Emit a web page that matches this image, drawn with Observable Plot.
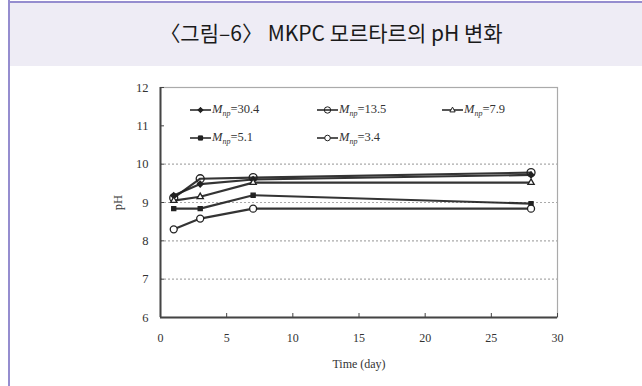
<!DOCTYPE html>
<html><head><meta charset="utf-8">
<script src="https://cdn.jsdelivr.net/npm/d3@7"></script>
<script src="https://cdn.jsdelivr.net/npm/@observablehq/plot@0.6"></script>
<style>
html,body{margin:0;padding:0;background:#fff;}
#wrap{position:relative;width:642px;height:386px;overflow:hidden;background:#fff;}
#header{position:absolute;left:9px;top:2px;width:640px;height:64px;background:#eeecf5;}
#bl{position:absolute;left:8px;top:0;width:2px;height:386px;background:#958dcf;}
#bt{position:absolute;left:8px;top:1px;width:640px;height:2px;background:#958dcf;}
#title{position:absolute;left:11px;width:640px;top:16px;text-align:center;font-family:"Noto Sans CJK KR","Noto Sans",sans-serif;font-weight:400;font-size:21px;line-height:32px;color:#1a1a1a;}
#chart{position:absolute;left:0;top:60px;}
#legend{position:absolute;left:0;top:0;width:642px;height:386px;pointer-events:none;font-family:"Liberation Serif",serif;font-size:12.5px;color:#333;}
.item{position:absolute;display:flex;align-items:center;height:16px;white-space:nowrap;color:#333;}
.item svg{display:block;margin-right:1px;}
.sub{font-size:8px;vertical-align:-3px;font-style:italic;color:#333;}
</style>
</head><body>
<div id="wrap">
  <div id="header"></div>
  <div id="bl"></div>
  <div id="bt"></div>
  <div id="title">〈그림–6〉 MKPC 모르타르의 pH 변화</div>
  <div id="chart"></div>
  <div id="legend"></div>
</div>
<script>
// ---- data ----
const days = [1, 3, 7, 28];
const seriesNames = ["30.4", "13.5", "7.9", "5.1", "3.4"];
const ph_30_4 = [9.18, 9.48, 9.60, 9.72];
const ph_13_5 = [9.12, 9.62, 9.65, 9.78];
const ph_7_9  = [9.05, 9.15, 9.52, 9.52];
const ph_5_1  = [8.84, 8.84, 9.19, 8.97];
const ph_3_4  = [8.30, 8.58, 8.84, 8.84];
const xTicks = [0, 5, 10, 15, 20, 25, 30];
const yTicks = [6, 7, 8, 9, 10, 11, 12];
const gridTicks = [7, 8, 9, 10];
const xLabel = "Time (day)";
const yLabel = "pH";

// ---- build table ----
const seriesValues = [ph_30_4, ph_13_5, ph_7_9, ph_5_1, ph_3_4];
const rows = [];
seriesNames.forEach((s, i) => days.forEach((d, j) => rows.push({series: s, day: d, ph: seriesValues[i][j]})));

const markerStyle = {
  "30.4": {symbol: "diamond2", fill: "#222", stroke: "#222", r: 2.6},
  "13.5": {symbol: "circle", fill: "none", stroke: "#222", r: 4},
  "7.9":  {symbol: "triangle2", fill: "white", stroke: "#222", r: 3},
  "5.1":  {symbol: "square2", fill: "#222", stroke: "#222", r: 2.6},
  "3.4":  {symbol: "circle", fill: "white", stroke: "#222", r: 3.5}
};
const ink = "#1e1e1e";

const marks = [
  Plot.ruleY(gridTicks, {stroke: "#aaa", strokeDasharray: "2,2", strokeWidth: 1.2}),
  Plot.frame({stroke: "#aaa", strokeWidth: 1.2}),
  Plot.ruleX([xTicks[0]], {stroke: "#444", strokeWidth: 2}),
  Plot.ruleY([yTicks[0]], {stroke: "#444", strokeWidth: 2}),
  Plot.axisX({ticks: xTicks, tickSize: 0, tickPadding: 16, tickFormat: "d", label: xLabel, labelAnchor: "center", labelOffset: 50, labelArrow: "none", fontSize: 12}),
  Plot.axisX({ticks: xTicks, tickSize: 4, dy: -4, text: null, label: null, stroke: "#444"}),
  Plot.axisY({ticks: yTicks, tickSize: 0, tickPadding: 12, tickFormat: "d", label: yLabel, labelAnchor: "center", labelOffset: 47, labelArrow: "none", fontSize: 12.5}),
  Plot.axisY({ticks: yTicks, tickSize: 4, dx: 4, text: null, label: null, stroke: "#444"}),
];
seriesNames.forEach(s => {
  const sub = rows.filter(r => r.series === s);
  marks.push(Plot.line(sub, {x: "day", y: "ph", stroke: ink, strokeWidth: 2.2, strokeOpacity: 0.9}));
});
seriesNames.forEach(s => {
  const sub = rows.filter(r => r.series === s);
  const m = markerStyle[s];
  marks.push(Plot.dot(sub, {x: "day", y: "ph", symbol: () => m.symbol, fill: m.fill, stroke: m.stroke, r: m.r, strokeWidth: 1.3}));
});

const chart = Plot.plot({
  width: 642, height: 326,
  marginLeft: 160, marginRight: 85, marginTop: 27, marginBottom: 69,
  style: {fontFamily: "'Liberation Serif', serif", fontSize: "12px", color: "#333", background: "transparent"},
  x: {domain: [xTicks[0], xTicks[xTicks.length - 1]]},
  y: {domain: [yTicks[0], yTicks[yTicks.length - 1]]},
  marks
});
document.getElementById("chart").appendChild(chart);

// ---- legend ----
const legendPos = {"30.4": [190, 110], "13.5": [317, 110], "7.9": [442, 110], "5.1": [190, 138], "3.4": [317, 138]};
const symbolPath = {
  diamond2: r => `M0,${-r*1.3}L${r*1.3},0L0,${r*1.3}L${-r*1.3},0Z`,
  circle: r => `M${r},0A${r},${r} 0 1,1 ${-r},0A${r},${r} 0 1,1 ${r},0Z`,
  triangle2: r => `M0,${-r*1.2}L${r*1.1},${r*0.8}L${-r*1.1},${r*0.8}Z`,
  square2: r => `M${-r},${-r}H${r}V${r}H${-r}Z`
};
const legend = document.getElementById("legend");
seriesNames.forEach(s => {
  const m = markerStyle[s];
  const [lx, ly] = legendPos[s];
  const div = document.createElement("div");
  div.className = "item";
  div.style.left = lx + "px";
  div.style.top = (ly - 8) + "px";
  div.innerHTML = `<svg width="21" height="12" viewBox="0 -6 21 12"><line x1="0" x2="21" y1="0" y2="0" stroke="${ink}" stroke-width="1.5"/>` +
    `<path transform="translate(10.5,0)" d="${symbolPath[m.symbol](m.r * 0.8)}" fill="${m.fill}" stroke="${ink}" stroke-width="1"/></svg>` +
    `<span><i>M</i><span class="sub">np</span>=${s}</span>`;
  legend.appendChild(div);
});
</script>
</body></html>
